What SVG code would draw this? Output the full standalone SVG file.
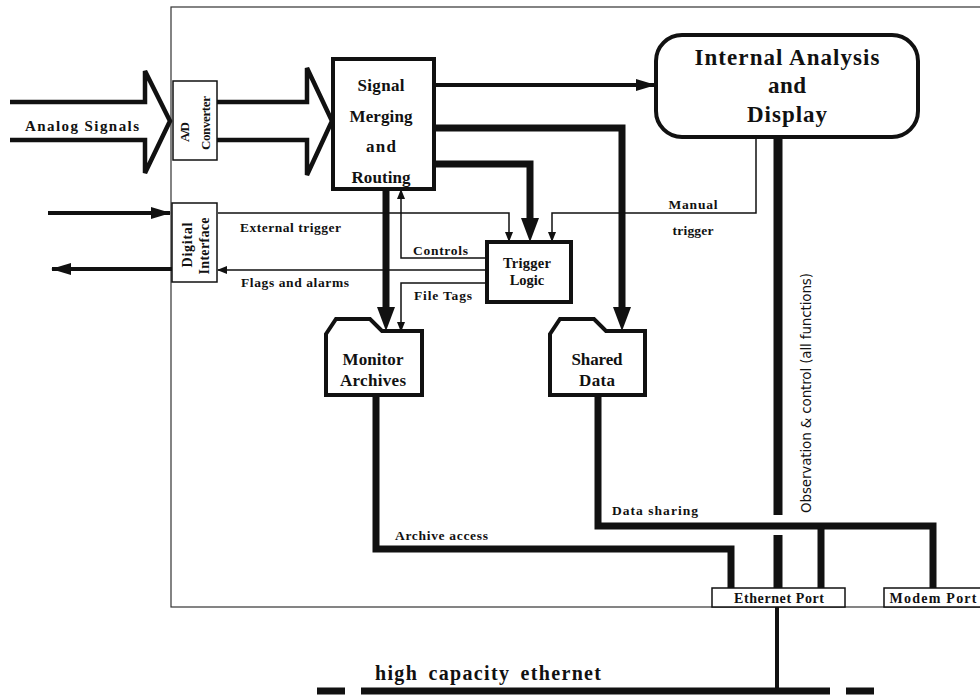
<svg xmlns="http://www.w3.org/2000/svg" width="980" height="696" viewBox="0 0 980 696">
<style>
text{font-family:"Liberation Serif","Times New Roman",serif;font-weight:bold;fill:#111}
.box{fill:#fff;stroke:#111;stroke-width:4}
.thin{fill:#fff;stroke:#111;stroke-width:1.5}
.ln{fill:none;stroke:#111;stroke-width:1.5}
.w4{fill:none;stroke:#111;stroke-width:4}
.w7{fill:none;stroke:#111;stroke-width:7}
.w9{fill:none;stroke:#111;stroke-width:9}
.big{fill:#fff;stroke:#111;stroke-width:4.5;stroke-linejoin:miter}
.c{text-anchor:middle}
.lb{font-size:13.5px}
.sans{font-family:"DejaVu Sans","Liberation Sans",sans-serif;font-weight:normal;font-size:13.5px}
</style>
<defs>
<marker id="s" markerUnits="userSpaceOnUse" markerWidth="10" markerHeight="8" refX="9" refY="4" orient="auto"><path d="M0,0 L10,4 L0,8 z" fill="#111"/></marker>
<marker id="m" markerUnits="userSpaceOnUse" markerWidth="20" markerHeight="12" refX="19" refY="6" orient="auto"><path d="M0,0 L20,6 L0,12 z" fill="#111"/></marker>
<marker id="L" markerUnits="userSpaceOnUse" markerWidth="24" markerHeight="18" refX="0" refY="9" orient="auto"><path d="M0,0 L24,9 L0,18 z" fill="#111"/></marker>
</defs>

<rect x="171" y="7" width="830" height="600" fill="none" stroke="#333" stroke-width="1.2"/>

<g id="connectors">
<path class="big" d="M10,102 H145 V71 L170,121 L145,173 V140 H10"/>
<path class="big" d="M217,102 H307 V68 L332,121 L307,175 V140 H217"/>
<path class="w4" d="M48,213 H170" marker-end="url(#m)"/>
<path class="w4" d="M172,269 H52" marker-end="url(#m)"/>
<path class="w4" d="M434,85 H655" marker-end="url(#m)"/>
<path class="w7" d="M434,128 H622 V307" marker-end="url(#L)"/>
<path class="w7" d="M434,164 H530 V218" marker-end="url(#L)"/>
<path class="w7" d="M386,189 V307" marker-end="url(#L)"/>
<path class="ln" d="M218,213 H509 V241" marker-end="url(#s)"/>
<path class="ln" d="M756,137 V213 H552 V241" marker-end="url(#s)"/>
<path class="ln" d="M486,258 H401 V190" marker-end="url(#s)"/>
<path class="ln" d="M486,270 H218" marker-end="url(#s)"/>
<path class="ln" d="M486,283 H401 V331" marker-end="url(#s)"/>
<path class="w9" d="M778,137 V515"/>
<path class="w9" d="M778,535 V588"/>
<path class="w7" d="M376,395 V549 H731 V588"/>
<path class="w7" d="M598,395 V526 H933 V588"/>
<path class="w7" d="M821,526 V588"/>
<path class="w4" d="M777,607 V690"/>
<path class="w7" d="M317,691 H345 M361,691 H830 M846,691 H874"/>
</g>

<g id="analog"><text x="82" y="131" class="c" font-size="15" textLength="114">Analog Signals</text></g>

<g id="ad"><rect class="thin" x="173" y="81" width="44" height="79"/>
<text class="c" font-size="13" textLength="20" transform="translate(189,132) rotate(-90)">A/D</text>
<text class="c" font-size="13" textLength="54" transform="translate(210,123) rotate(-90)">Converter</text></g>

<g id="digital"><rect class="thin" x="172" y="203" width="45" height="79"/>
<text class="c" font-size="14" textLength="45" transform="translate(192,245) rotate(-90)">Digital</text>
<text class="c" font-size="14" textLength="57" transform="translate(209,246) rotate(-90)">Interface</text></g>

<g id="signal"><rect class="box" x="333" y="59" width="101" height="130"/>
<text class="c" x="381" y="91" font-size="17" textLength="47">Signal</text>
<text class="c" x="381" y="122" font-size="17" textLength="63">Merging</text>
<text class="c" x="381" y="152" font-size="17" textLength="30">and</text>
<text class="c" x="381" y="183" font-size="17" textLength="59">Routing</text></g>

<g id="analysis"><rect class="box" x="656" y="35" width="262" height="102" rx="26" stroke-width="5"/>
<text class="c" x="787" y="65" font-size="23" textLength="185">Internal Analysis</text>
<text class="c" x="787" y="93" font-size="23" textLength="38">and</text>
<text class="c" x="787" y="122" font-size="23" textLength="80">Display</text></g>

<g id="trigger"><rect class="box" x="487" y="242" width="84" height="60"/>
<text class="c" x="527" y="268" font-size="14.5" textLength="48">Trigger</text>
<text class="c" x="527" y="285" font-size="14.5">Logic</text></g>

<g id="monitor"><path class="box" d="M326,334 L336,319 L370,319 L382,331 L422,331 L422,395 L326,395 Z"/>
<text class="c" x="373" y="365" font-size="17" textLength="61">Monitor</text>
<text class="c" x="373" y="386" font-size="17" textLength="66">Archives</text></g>

<g id="shared"><path class="box" d="M550,334 L560,319 L594,319 L606,331 L645,331 L645,395 L550,395 Z"/>
<text class="c" x="597" y="365" font-size="17" textLength="51">Shared</text>
<text class="c" x="597" y="386" font-size="17" textLength="36">Data</text></g>

<g id="ethernet"><rect class="thin" x="712" y="588" width="133" height="19"/>
<text class="c" x="779" y="603" font-size="14" textLength="90">Ethernet Port</text></g>

<g id="modem"><rect class="thin" x="884" y="588" width="110" height="19"/>
<text class="c" x="933" y="603" font-size="14" textLength="87">Modem Port</text></g>

<g id="labels">
<text class="lb" x="240" y="232" textLength="101">External trigger</text>
<text class="lb" x="241" y="287" textLength="108">Flags and alarms</text>
<text class="lb" x="413" y="255" textLength="55">Controls</text>
<text class="lb" x="414" y="300" textLength="58">File Tags</text>
<text class="lb c" x="693" y="209" textLength="49">Manual</text>
<text class="lb c" x="693" y="235" textLength="41">trigger</text>
<text class="lb" x="612" y="515" textLength="86">Data sharing</text>
<text class="lb" x="395" y="540" textLength="93">Archive access</text>
<text class="sans c" transform="translate(811,393) rotate(-90)" textLength="240">Observation &amp; control (all functions)</text>
<text x="375" y="680" font-size="20" textLength="226" word-spacing="4">high capacity ethernet</text>
</g>
</svg>
